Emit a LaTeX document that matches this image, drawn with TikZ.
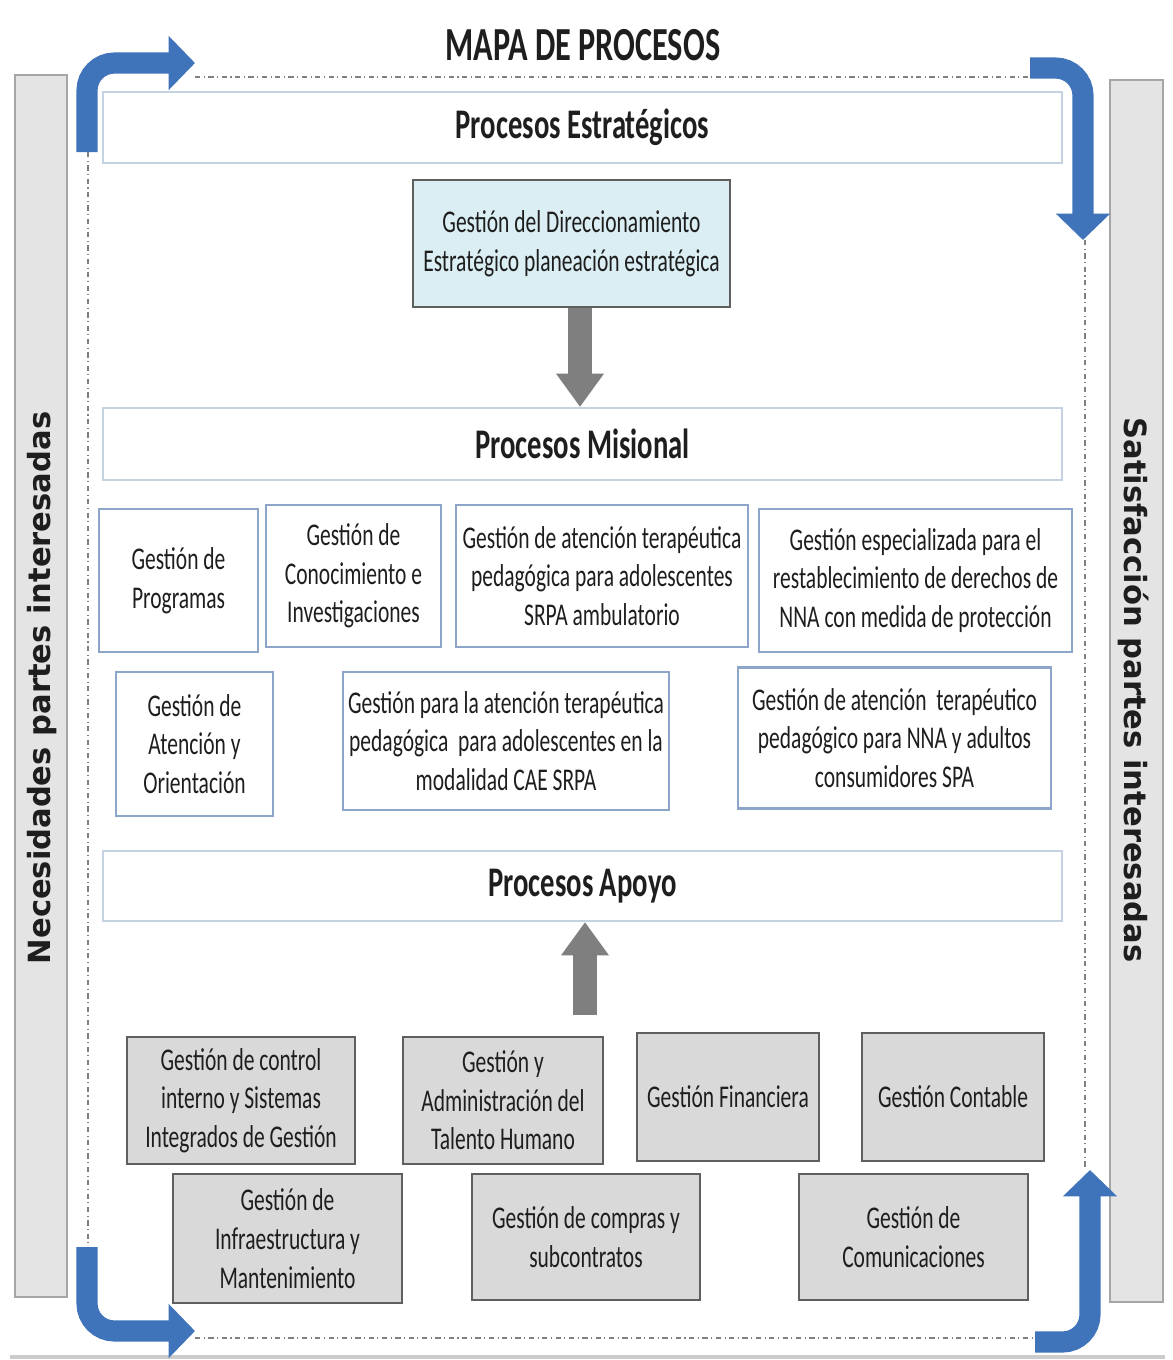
\documentclass[tikz,border=0pt]{standalone}
\usepackage{fontspec}
\setmainfont{Carlito}[FakeStretch=0.68]
\newfontfamily\lateralfont{DejaVu Sans}
\usetikzlibrary{arrows.meta}

\definecolor{azulflecha}{RGB}{63,116,186}
\definecolor{bordefranja}{RGB}{196,210,226}
\definecolor{bordemis}{RGB}{140,165,200}
\definecolor{fondodir}{RGB}{218,238,243}
\definecolor{fondoapoyo}{RGB}{217,217,217}
\definecolor{grisoscuro}{RGB}{95,95,95}
\definecolor{grisflecha}{RGB}{127,127,127}
\definecolor{fondobarra}{RGB}{228,228,228}
\definecolor{texto}{RGB}{30,30,30}

\tikzset{
    tam/.style 2 args={minimum width=#1*0.02cm, minimum height=#2*0.02cm},
    franja/.style={draw=bordefranja, fill=white, line width=1.2pt, inner sep=0pt,
        text=texto, font=\fontsize{24}{28}\selectfont\bfseries},
    cajadir/.style={draw=grisoscuro, fill=fondodir, line width=1.3pt, inner sep=0pt,
        align=center, text=texto, font=\fontsize{18}{22}\selectfont},
    cajamis/.style={draw=bordemis, fill=white, line width=1.3pt, inner sep=0pt,
        align=center, text=texto, font=\fontsize{18}{22}\selectfont},
    cajaapoyo/.style={draw=grisoscuro, fill=fondoapoyo, line width=1.3pt, inner sep=0pt,
        align=center, text=texto, font=\fontsize{18}{22}\selectfont},
    barra/.style={draw=gray!70, fill=fondobarra, line width=1pt},
    lateral/.style={text=texto, font=\lateralfont\fontsize{17.4}{20}\selectfont\bfseries},
    marco/.style={gray, line width=0.6pt, dash dot},
    flecha/.style={azulflecha, line width=12pt, rounded corners=0.55cm,
        -{Triangle[length=15pt, width=30pt]}},
    flechagris/.style={grisflecha, line width=14pt, -{Triangle[length=19pt, width=26pt]}}
}

\begin{document}
\begin{tikzpicture}[x=0.02cm, y=-0.02cm]

    \fill[white] (0,0) rectangle (1173,1360);
    \useasboundingbox (0,0) rectangle (1173,1360);

    % Barras laterales
    \draw[barra] (15,75) rectangle (67,1297);
    \draw[barra] (1110,80) rectangle (1163,1302);
    \draw[gray!40, line width=2pt] (10,1357) -- (1165,1357);
    \node[lateral, rotate=90] (necesidades) at (42,688) {Necesidades partes interesadas};
    \node[lateral, rotate=-90] (satisfaccion) at (1134,690) {Satisfacción partes interesadas};

    % Marco punteado
    \draw[marco] (195,77) -- (1030,77);
    \draw[marco] (88,152) -- (88,1247);
    \draw[marco] (1085,240) -- (1085,1170);
    \draw[marco] (195,1338) -- (1035,1338);

    % Titulo
    \node[text=texto, font=\fontsize{27}{32}\selectfont\bfseries] (titulo) at (583,45) {MAPA DE PROCESOS};

    % Procesos estrategicos
    \node[franja, tam={959}{71}] (estrategicos) at (582.5,127.5) {Procesos Estratégicos};
    \node[cajadir, tam={317}{127}] (dir) at (571.5,243.5)
        {Gestión del Direccionamiento\\Estratégico planeación estratégica};

    % Procesos misionales
    \node[franja, tam={959}{72}] (misional) at (582.5,444) {Procesos Misional};
    \node[cajamis, tam={159}{143}] (programas) at (178.5,580.5) {Gestión de\\Programas};
    \node[cajamis, tam={175}{142}] (conocimiento) at (353.5,576)
        {Gestión de\\Conocimiento e\\Investigaciones};
    \node[cajamis, tam={292}{142}] (ambulatorio) at (602,576)
        {Gestión de atención terapéutica\\pedagógica para adolescentes\\SRPA ambulatorio};
    \node[cajamis, tam={313}{143}] (especializada) at (915.5,580.5)
        {Gestión especializada para el\\restablecimiento de derechos de\\NNA con medida de protección};
    \node[cajamis, tam={157}{144}] (orientacion) at (194.5,744)
        {Gestión de\\Atención y\\Orientación};
    \node[cajamis, tam={326}{138}] (cae) at (506,741)
        {Gestión para la atención terapéutica\\pedagógica\ \ para adolescentes en la\\modalidad CAE SRPA};
    \node[cajamis, tam={313}{141}] (spa) at (894.5,738)
        {Gestión de atención\ \ terapéutico\\pedagógico para NNA y adultos\\consumidores SPA};

    % Procesos de apoyo
    \node[franja, tam={959}{70}] (apoyo) at (582.5,886) {Procesos Apoyo};
    \node[cajaapoyo, tam={228}{127}] (control) at (241,1100.5)
        {Gestión de control\\interno y Sistemas\\Integrados de Gestión};
    \node[cajaapoyo, tam={200}{127}] (talento) at (503,1100.5)
        {Gestión y\\Administración del\\Talento Humano};
    \node[cajaapoyo, tam={182}{128}] (financiera) at (728,1097) {Gestión Financiera};
    \node[cajaapoyo, tam={182}{128}] (contable) at (953,1097) {Gestión Contable};
    \node[cajaapoyo, tam={229}{129}] (infra) at (287.5,1238.5)
        {Gestión de\\Infraestructura y\\Mantenimiento};
    \node[cajaapoyo, tam={228}{126}] (compras) at (586,1237)
        {Gestión de compras y\\subcontratos};
    \node[cajaapoyo, tam={229}{126}] (comunicaciones) at (913.5,1237)
        {Gestión de\\Comunicaciones};

    % Flechas grises
    \draw[flechagris] (dir.south -| 580,0) -- (misional.north -| 580,0);
    \coordinate (base) at (585,1015);
    \draw[flechagris] (base) -- (base |- apoyo.south);

    % Flechas azules de las esquinas
    \coordinate (si0) at (87,152);
    \coordinate (si1) at (195,63);
    \coordinate (sd0) at (1030,68);
    \coordinate (sd1) at (1083,240);
    \coordinate (id0) at (1035,1342);
    \coordinate (id1) at (1090,1170);
    \coordinate (ii0) at (87,1247);
    \coordinate (ii1) at (195,1331);
    \draw[flecha] (si0) |- (si1);
    \draw[flecha] (sd0) -| (sd1);
    \draw[flecha] (id0) -| (id1);
    \draw[flecha] (ii0) |- (ii1);
\end{tikzpicture}
\end{document}
